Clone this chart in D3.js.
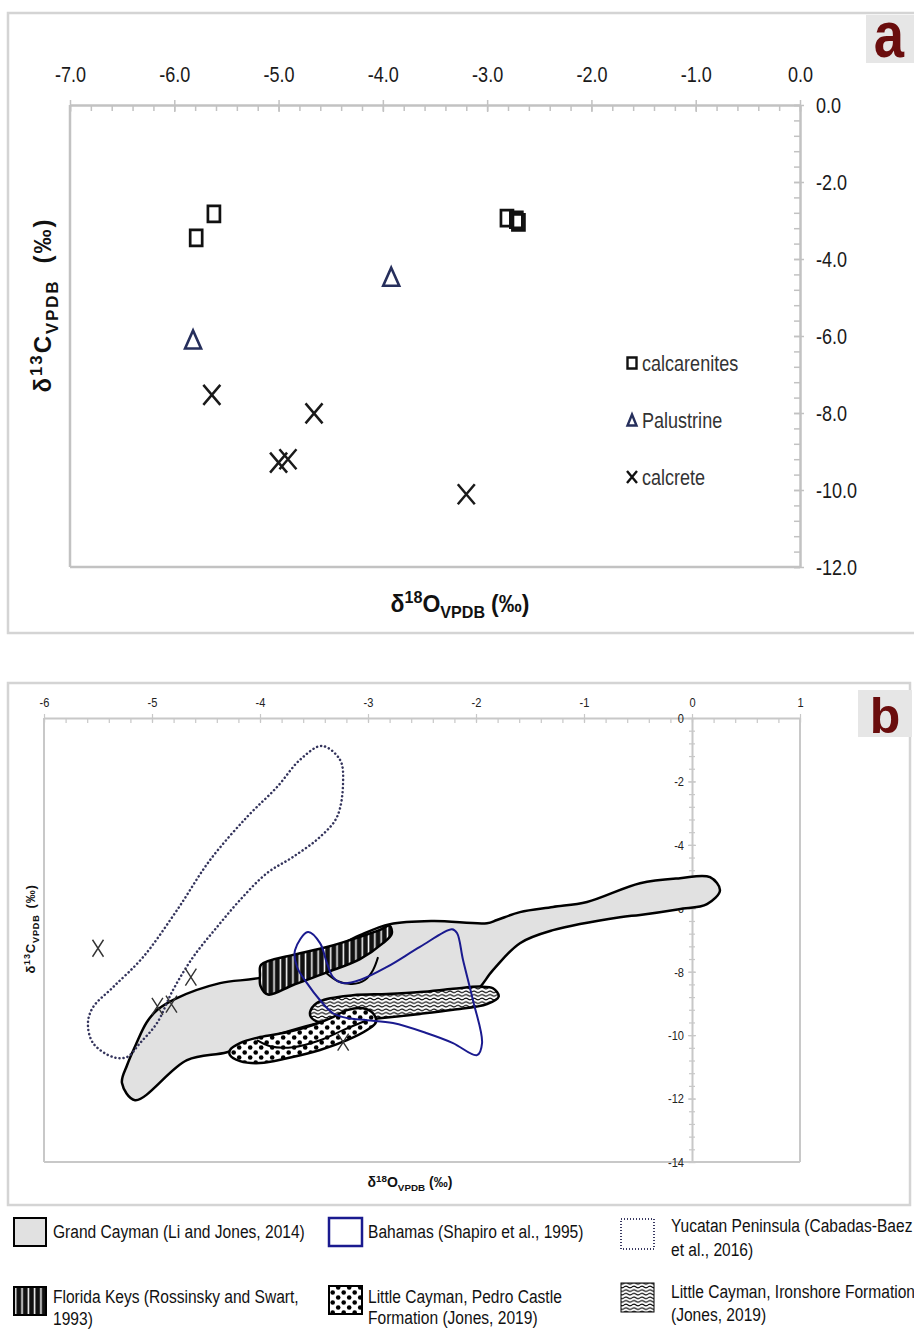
<!DOCTYPE html>
<html><head><meta charset="utf-8">
<script src="https://cdn.jsdelivr.net/npm/d3@7"></script>
<style>
body{margin:0;background:#fff;}
svg{display:block;}
</style></head><body>
<svg id="c" width="914" height="1329"></svg>
<script>
// ---------- Panel a data ----------
const aXTicks = [-7,-6,-5,-4,-3,-2,-1,0];
const aYTicks = [0,-2,-4,-6,-8,-10,-12];
const calcarenitesO = [-5.62,-5.79,-2.81,-2.72,-2.70];
const calcarenitesC = [-2.83,-3.45,-2.94,-2.98,-3.05];
const palustrineO = [-3.92,-5.82];
const palustrineC = [-4.46,-6.09];
const calcreteO = [-5.64,-4.66,-5.00,-4.91,-3.20];
const calcreteC = [-7.53,-8.01,-9.29,-9.20,-10.11];
const aLegend = ["calcarenites","Palustrine","calcrete"];

// ---------- Panel b data ----------
const bXTicks = [-6,-5,-4,-3,-2,-1,0,1];
const bYTicks = [0,-2,-4,-6,-8,-10,-12,-14];
const bCalcreteO = [-5.50,-4.95,-4.82,-4.64,-3.23];
const bCalcreteC = [-7.26,-9.09,-9.02,-8.17,-10.22];
const grandCayman = [[-5.157,-12.05],[-5.278,-11.51],[-5.231,-10.95],[-5.15,-10.3],[-5.05,-9.6],[-4.95,-9.2],[-4.769,-8.83],[-4.37,-8.36],[-3.972,-8.17],[-3.444,-7.48],[-3.074,-6.85],[-2.796,-6.50],[-2.398,-6.40],[-1.898,-6.47],[-1.806,-6.37],[-1.593,-6.12],[-1.287,-5.96],[-0.972,-5.80],[-0.481,-5.21],[-0.111,-5.05],[0.167,-5.02],[0.259,-5.43],[0.139,-5.87],[-0.120,-6.03],[-0.481,-6.21],[-0.667,-6.28],[-1.287,-6.69],[-1.593,-7.10],[-1.843,-7.95],[-2.028,-8.68],[-2.519,-9.05],[-3.352,-9.53],[-4.0,-10.16],[-4.306,-10.54],[-4.676,-10.79]];
const bahamas = [[-3.556,-6.75],[-3.676,-7.32],[-3.657,-7.85],[-3.565,-8.36],[-3.444,-8.90],[-3.324,-9.31],[-3.194,-9.46],[-3.009,-9.53],[-2.769,-9.62],[-2.454,-9.94],[-2.213,-10.25],[-1.991,-10.63],[-1.944,-10.25],[-2.028,-8.90],[-2.120,-7.63],[-2.176,-6.78],[-2.222,-6.66],[-2.519,-7.22],[-2.824,-7.85],[-3.074,-8.26],[-3.231,-8.36],[-3.324,-8.17],[-3.380,-7.73],[-3.444,-7.10]];
const yucatan = [[-3.426,-0.88],[-3.259,-1.32],[-3.231,-2.05],[-3.287,-3.12],[-3.444,-3.75],[-3.694,-4.38],[-3.935,-4.89],[-4.185,-5.74],[-4.398,-6.59],[-4.620,-7.54],[-4.806,-8.58],[-4.954,-9.62],[-5.111,-10.25],[-5.231,-10.69],[-5.361,-10.69],[-5.546,-10.25],[-5.593,-9.62],[-5.546,-9.12],[-5.361,-8.49],[-5.083,-7.54],[-4.769,-6.06],[-4.463,-4.48],[-4.120,-3.12],[-3.843,-2.18],[-3.630,-1.32]];
const floridaKeys = [[-3.99,-7.78],[-3.694,-7.47],[-3.380,-7.22],[-3.074,-6.90],[-2.889,-6.68],[-2.80,-6.55],[-2.78,-6.80],[-2.861,-7.10],[-3.074,-7.60],[-3.380,-8.02],[-3.694,-8.42],[-3.926,-8.72],[-3.995,-8.45],[-4.0,-8.10]];
const floridaLoop = [[-3.398,-8.01],[-3.278,-8.30],[-3.148,-8.39],[-3.028,-8.26],[-2.954,-7.95],[-2.907,-7.54]];
const ironshore = [[-3.53,-9.21],[-3.444,-8.93],[-3.139,-8.74],[-2.824,-8.70],[-2.519,-8.64],[-2.213,-8.54],[-1.963,-8.47],[-1.843,-8.52],[-1.790,-8.78],[-1.898,-9.02],[-2.213,-9.20],[-2.519,-9.33],[-2.824,-9.44],[-3.139,-9.53],[-3.444,-9.60],[-3.53,-9.42]];
const pedroCastle = [[-4.278,-10.47],[-4.185,-10.25],[-4.0,-10.06],[-3.75,-9.91],[-3.509,-9.68],[-3.324,-9.43],[-3.194,-9.21],[-3.046,-9.15],[-2.954,-9.31],[-2.926,-9.59],[-3.009,-9.84],[-3.194,-10.16],[-3.444,-10.47],[-3.75,-10.73],[-4.0,-10.88],[-4.185,-10.82],[-4.278,-10.63]];
const pedroInner = [[-4.028,-10.16],[-3.907,-10.35],[-3.694,-10.38],[-3.444,-10.16],[-3.231,-9.84],[-3.009,-9.53]];
const bLegendRow1 = ["Grand Cayman (Li and Jones, 2014)","Bahamas (Shapiro et al., 1995)",["Yucatan Peninsula (Cabadas-Baez","et al., 2016)"]];
const bLegendRow2 = [["Florida Keys (Rossinsky and Swart,","1993)"],["Little Cayman, Pedro Castle","Formation (Jones, 2019)"],["Little Cayman, Ironshore Formation","(Jones, 2019)"]];

const SANS = '"Liberation Sans",Arial,sans-serif';
const NK = 0.82; // horizontal condensing to mimic Arial Narrow
const AXIS = "#c2c2c2";
const svg = d3.select("#c");

function narrow(sel, k){
  k = k || NK;
  sel.each(function(){
    const t = d3.select(this);
    const x = +t.attr("x") || 0, y = +t.attr("y") || 0;
    t.attr("x",0).attr("y",0).attr("transform",`translate(${x},${y}) scale(${k},1)`);
  });
  return sel;
}

// ---------- defs / patterns ----------
const defs = svg.append("defs");
const pStr = defs.append("pattern").attr("id","stripes").attr("patternUnits","userSpaceOnUse").attr("width",6.3).attr("height",10);
pStr.append("rect").attr("width",6.3).attr("height",10).attr("fill","#111");
pStr.append("rect").attr("x",2.4).attr("width",1.5).attr("height",10).attr("fill","#fff");
const pDot = defs.append("pattern").attr("id","dots").attr("patternUnits","userSpaceOnUse").attr("width",11).attr("height",10);
pDot.append("rect").attr("width",11).attr("height",10).attr("fill","#fff");
pDot.append("circle").attr("cx",2.7).attr("cy",2.5).attr("r",2.3).attr("fill","#000");
pDot.append("circle").attr("cx",8.2).attr("cy",7.5).attr("r",2.3).attr("fill","#000");
const pWav = defs.append("pattern").attr("id","waves").attr("patternUnits","userSpaceOnUse").attr("width",8).attr("height",3.6);
pWav.append("rect").attr("width",8).attr("height",3.6).attr("fill","#fff");
pWav.append("path").attr("d","M0,1.8 q2,-1.7 4,0 t4,0").attr("fill","none").attr("stroke","#000").attr("stroke-width",1.05);

// ---------- panel frames ----------
svg.append("rect").attr("x",8).attr("y",13).attr("width",912).attr("height",620).attr("fill","none").attr("stroke","#d4d4d4").attr("stroke-width",2.5);
svg.append("rect").attr("x",8).attr("y",683).attr("width",902).attr("height",522).attr("fill","none").attr("stroke","#d4d4d4").attr("stroke-width",2.5);
// panel letters
svg.append("rect").attr("x",866).attr("y",15).attr("width",48).attr("height",48).attr("fill","#e6e6e6");
narrow(svg.append("text").attr("x",889).attr("y",57).attr("text-anchor","middle").attr("font-family",SANS).attr("font-weight","bold").attr("font-size",64).attr("fill","#6a0d0d").text("a"), 0.85);
svg.append("rect").attr("x",858).attr("y",690).attr("width",54).attr("height",47).attr("fill","#e6e6e6");
svg.append("text").attr("x",885).attr("y",733).attr("text-anchor","middle").attr("font-family",SANS).attr("font-weight","bold").attr("font-size",50).attr("fill","#6a0d0d").text("b");

// ---------- Panel a ----------
const xA = d3.scaleLinear().domain([-7,0]).range([70,800]);
const yA = d3.scaleLinear().domain([0,-12]).range([105,567]);
svg.append("line").attr("x1",xA(-7)).attr("x2",xA(-7)).attr("y1",yA(0)).attr("y2",yA(-12)).attr("stroke",AXIS).attr("stroke-width",2.5);
svg.append("line").attr("x1",xA(-7)).attr("x2",xA(0)).attr("y1",yA(-12)).attr("y2",yA(-12)).attr("stroke",AXIS).attr("stroke-width",2.5);
svg.append("g").attr("transform",`translate(0,${yA(0)})`)
  .call(d3.axisTop(xA).tickValues(d3.range(-35,1).map(i=>i/5)).tickSize(-6).tickFormat(""))
  .call(g=>{g.select(".domain").remove(); g.selectAll("line").attr("stroke",AXIS).attr("stroke-width",1.5);});
svg.append("g").attr("transform",`translate(${xA(0)},0)`)
  .call(d3.axisRight(yA).tickValues(d3.range(0,31).map(i=>-i*0.4)).tickSize(-6).tickFormat(""))
  .call(g=>{g.select(".domain").remove(); g.selectAll("line").attr("stroke",AXIS).attr("stroke-width",1.5);});
const axA = svg.append("g").attr("transform",`translate(0,${yA(0)})`)
  .call(d3.axisTop(xA).tickValues(aXTicks).tickFormat(d=>d.toFixed(1)).tickSize(5).tickPadding(18).tickSizeOuter(0));
axA.select(".domain").attr("stroke",AXIS).attr("stroke-width",2.5);
axA.selectAll("line").attr("stroke",AXIS).attr("stroke-width",1.5).attr("y1",7);
narrow(axA.selectAll("text").attr("font-family",SANS).attr("font-size",22).attr("fill","#1a1a1a"));
const ayA = svg.append("g").attr("transform",`translate(${xA(0)},0)`)
  .call(d3.axisRight(yA).tickValues(aYTicks).tickFormat(d=>d.toFixed(1)).tickSize(4).tickPadding(12).tickSizeOuter(0));
ayA.select(".domain").attr("stroke",AXIS).attr("stroke-width",2.5);
ayA.selectAll("line").attr("stroke",AXIS).attr("stroke-width",1.5).attr("x1",-6);
narrow(ayA.selectAll("text").attr("font-family",SANS).attr("font-size",22).attr("fill","#1a1a1a"));

// markers
const sqPath = (w,h)=>`M${-w/2},${-h/2}h${w}v${h}h${-w}Z`;
const triPath = (w,h)=>`M0,${-h/2}L${w/2},${h/2}L${-w/2},${h/2}Z`;
const xPath = (w,h)=>`M${-w/2},${-h/2}L${w/2},${h/2}M${w/2},${-h/2}L${-w/2},${h/2}`;
const gA = svg.append("g");
gA.selectAll(".sq").data(d3.range(calcarenitesO.length)).join("path")
  .attr("transform",i=>`translate(${xA(calcarenitesO[i])},${yA(calcarenitesC[i])})`)
  .attr("d",sqPath(12,16)).attr("fill","none").attr("stroke","#111").attr("stroke-width",2.7);
gA.selectAll(".tri").data(d3.range(palustrineO.length)).join("path")
  .attr("transform",i=>`translate(${xA(palustrineO[i])},${yA(palustrineC[i])})`)
  .attr("d",triPath(16,18)).attr("fill","none").attr("stroke","#262f5c").attr("stroke-width",2.6);
gA.selectAll(".cr").data(d3.range(calcreteO.length)).join("path")
  .attr("transform",i=>`translate(${xA(calcreteO[i])},${yA(calcreteC[i])})`)
  .attr("d",xPath(17,20)).attr("fill","none").attr("stroke","#1a1a1a").attr("stroke-width",2.5);

// legend a
const legA = svg.append("g").attr("font-family",SANS).attr("font-size",22).attr("fill","#333");
const legY = [363,420,477];
legA.append("path").attr("transform",`translate(632,${legY[0]})`).attr("d",sqPath(9,11)).attr("fill","none").attr("stroke","#111").attr("stroke-width",2.4);
legA.append("path").attr("transform",`translate(632,${legY[1]})`).attr("d",triPath(9,11)).attr("fill","none").attr("stroke","#262f5c").attr("stroke-width",2.4);
legA.append("path").attr("transform",`translate(632,${legY[2]})`).attr("d",xPath(10,12)).attr("fill","none").attr("stroke","#111").attr("stroke-width",2.4);
aLegend.forEach((t,i)=>narrow(legA.append("text").attr("x",642).attr("y",legY[i]+8).text(t)));

// axis titles
function isoTitle(el, num, sub, fs, gap){
  const t = svg.append("text").attr("font-family",SANS).attr("font-weight","bold").attr("font-size",fs).attr("fill","#111").attr("text-anchor","middle");
  t.append("tspan").text("δ");
  t.append("tspan").attr("font-size",fs*0.7).attr("dy",-fs*0.38).text(num);
  t.append("tspan").attr("dy",fs*0.38).text(el);
  t.append("tspan").attr("font-size",fs*0.7).attr("dy",fs*0.28).text(sub);
  t.append("tspan").attr("dy",-fs*0.28).attr("dx",gap||fs*0.25).text("(‰)");
  return t;
}
isoTitle("O","18","VPDB",23,6).attr("x",460).attr("y",612);
isoTitle("C","13","VPDB",24,16).attr("letter-spacing",2).attr("transform","translate(51,305) rotate(-90)");

// ---------- Panel b ----------
const xB = d3.scaleLinear().domain([-6,1]).range([44,800]);
const yB = d3.scaleLinear().domain([0,-14]).range([718,1162]);
const BAX = "#c8c8c8";
svg.append("line").attr("x1",xB(-6)).attr("x2",xB(-6)).attr("y1",yB(0)).attr("y2",yB(-14)).attr("stroke",BAX).attr("stroke-width",2);
svg.append("line").attr("x1",xB(1)).attr("x2",xB(1)).attr("y1",yB(0)).attr("y2",yB(-14)).attr("stroke",BAX).attr("stroke-width",2);
svg.append("line").attr("x1",xB(-6)).attr("x2",xB(1)).attr("y1",yB(-14)).attr("y2",yB(-14)).attr("stroke",BAX).attr("stroke-width",2);
svg.append("g").attr("transform",`translate(0,${yB(0)})`)
  .call(d3.axisTop(xB).tickValues(d3.range(-30,6).map(i=>i/5)).tickSize(-5).tickFormat(""))
  .call(g=>{g.select(".domain").remove(); g.selectAll("line").attr("stroke",BAX).attr("stroke-width",1.2);});
svg.append("g").attr("transform",`translate(${xB(0)},0)`)
  .call(d3.axisLeft(yB).tickValues(d3.range(0,36).map(i=>-i*0.4)).tickSize(3).tickFormat(""))
  .call(g=>{g.select(".domain").remove(); g.selectAll("line").attr("stroke",BAX).attr("stroke-width",1.2).attr("x2",3).attr("x1",-3);});
const axB = svg.append("g").attr("transform",`translate(0,${yB(0)})`)
  .call(d3.axisTop(xB).tickValues(bXTicks).tickFormat(d=>String(d)).tickSize(4).tickPadding(7).tickSizeOuter(0));
axB.select(".domain").attr("stroke",BAX).attr("stroke-width",2);
axB.selectAll("line").attr("stroke",BAX).attr("stroke-width",1.2).attr("y1",4);
narrow(axB.selectAll("text").attr("font-family",SANS).attr("font-size",13.5).attr("fill","#222"));
const ayB = svg.append("g").attr("transform",`translate(${xB(0)},0)`)
  .call(d3.axisLeft(yB).tickValues(bYTicks).tickFormat(d=>String(d)).tickSize(4).tickPadding(4).tickSizeOuter(0));
ayB.select(".domain").attr("stroke",BAX).attr("stroke-width",2);
ayB.selectAll("line").attr("stroke",BAX).attr("stroke-width",1.2).attr("x1",4);
narrow(ayB.selectAll("text").attr("font-family",SANS).attr("font-size",13.5).attr("fill","#222"));

const closed = d3.line().x(d=>xB(d[0])).y(d=>yB(d[1])).curve(d3.curveCatmullRomClosed.alpha(0.5));
const open = d3.line().x(d=>xB(d[0])).y(d=>yB(d[1])).curve(d3.curveCatmullRom.alpha(0.5));
const gB = svg.append("g");
gB.append("path").attr("d",closed(grandCayman)).attr("fill","#e1e1e1").attr("stroke","#000").attr("stroke-width",2.5).attr("stroke-linejoin","round");
gB.append("path").attr("d",closed(yucatan)).attr("fill","none").attr("stroke","#34345c").attr("stroke-width",2.5).attr("stroke-dasharray","0.1 4").attr("stroke-linecap","round");
gB.append("path").attr("d",closed(floridaKeys)).attr("fill","url(#stripes)").attr("stroke","#000").attr("stroke-width",2.5);
gB.append("path").attr("d",open(floridaLoop)).attr("fill","none").attr("stroke","#000").attr("stroke-width",2);
gB.append("path").attr("d",closed(ironshore)).attr("fill","url(#waves)").attr("stroke","#000").attr("stroke-width",2.5);
gB.append("path").attr("d",closed(pedroCastle)).attr("fill","url(#dots)").attr("stroke","#000").attr("stroke-width",2.5);
gB.append("path").attr("d",open(pedroInner)).attr("fill","none").attr("stroke","#000").attr("stroke-width",2);
gB.append("path").attr("d",closed(bahamas)).attr("fill","none").attr("stroke","#1a1a8f").attr("stroke-width",2);
gB.selectAll(".bx").data(d3.range(bCalcreteO.length)).join("path")
  .attr("transform",i=>`translate(${xB(bCalcreteO[i])},${yB(bCalcreteC[i])})`)
  .attr("d",xPath(11,17)).attr("fill","none").attr("stroke","#333").attr("stroke-width",1.4);

isoTitle("O","18","VPDB",14,4).attr("x",410).attr("y",1187);
isoTitle("C","13","VPDB",13,6).attr("letter-spacing",0.8).attr("transform","translate(35,929) rotate(-90)");

// ---------- legend b ----------
const lg = svg.append("g").attr("font-family",SANS).attr("font-size",19).attr("fill","#111");
lg.append("rect").attr("x",14).attr("y",1218).attr("width",32).attr("height",28).attr("fill","#e1e1e1").attr("stroke","#000").attr("stroke-width",2);
lg.append("rect").attr("x",329).attr("y",1218).attr("width",33).attr("height",28).attr("fill","#fff").attr("stroke","#1a1a8f").attr("stroke-width",2.5);
lg.append("rect").attr("x",621).attr("y",1219).attr("width",33).attr("height",30).attr("fill","#fff").attr("stroke","#3a3a62").attr("stroke-width",2).attr("stroke-dasharray","1 2");
lg.append("rect").attr("x",14).attr("y",1287).attr("width",32).attr("height",28).attr("fill","url(#stripes)").attr("stroke","#000").attr("stroke-width",2);
lg.append("rect").attr("x",329).attr("y",1286).attr("width",33).attr("height",28).attr("fill","url(#dots)").attr("stroke","#000").attr("stroke-width",2);
lg.append("rect").attr("x",621).attr("y",1283).attr("width",33).attr("height",29).attr("fill","url(#waves)").attr("stroke","#000").attr("stroke-width",1);
const lt = (x,y,s)=>narrow(lg.append("text").attr("x",x).attr("y",y).text(s));
lt(53,1238,bLegendRow1[0]);
lt(368,1238,bLegendRow1[1]);
lt(671,1232,bLegendRow1[2][0]);
lt(671,1256,bLegendRow1[2][1]);
lt(53,1303,bLegendRow2[0][0]);
lt(53,1325,bLegendRow2[0][1]);
lt(368,1303,bLegendRow2[1][0]);
lt(368,1324,bLegendRow2[1][1]);
lt(671,1298,bLegendRow2[2][0]);
lt(671,1321,bLegendRow2[2][1]);
</script>
</body></html>
